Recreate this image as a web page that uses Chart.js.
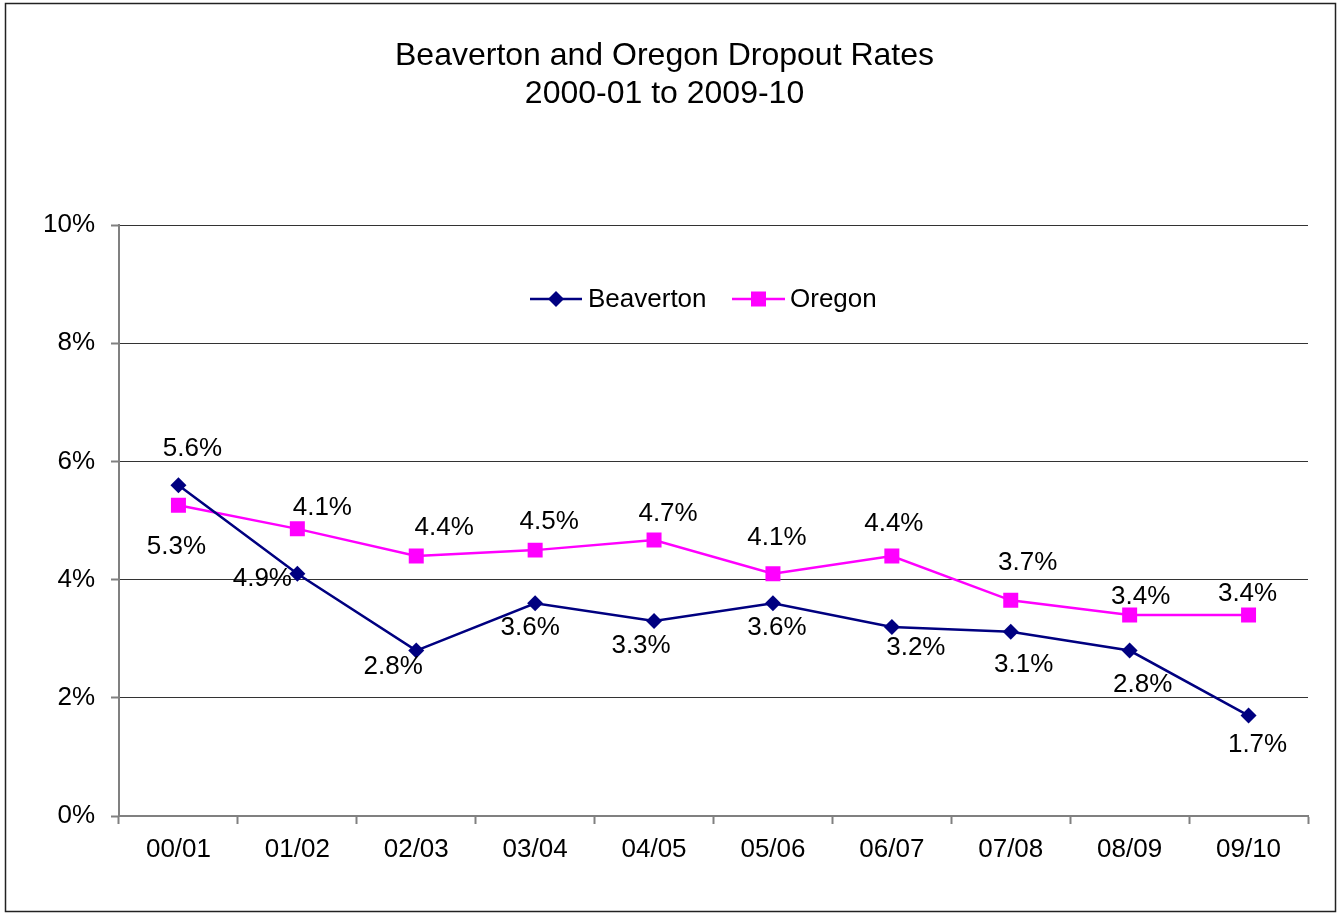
<!DOCTYPE html>
<html>
<head>
<meta charset="utf-8">
<script src="https://cdn.jsdelivr.net/npm/chart.js@4/dist/chart.umd.min.js"></script>
<style>
  html, body { margin: 0; padding: 0; background: #fff; }
  #wrap { width: 1340px; height: 914px; }
</style>
</head>
<body>
<div id="wrap"><canvas id="canvas" width="1340" height="914"></canvas></div>
<script>
// data
const years = ['00/01','01/02','02/03','03/04','04/05','05/06','06/07','07/08','08/09','09/10'];
const beaverton = [5.6, 4.1, 2.8, 3.6, 3.3, 3.6, 3.2, 3.12, 2.8, 1.7];
const oregon = [5.26, 4.86, 4.4, 4.5, 4.67, 4.1, 4.4, 3.65, 3.4, 3.4];
// label texts exactly as printed on the original
const beavertonLabels = ['5.6%','4.9%','2.8%','3.6%','3.3%','3.6%','3.2%','3.1%','2.8%','1.7%'];
const oregonLabels = ['5.3%','4.1%','4.4%','4.5%','4.7%','4.1%','4.4%','3.7%','3.4%','3.4%'];
const yTicks = [0, 2, 4, 6, 8, 10];

// label offsets from each point (px), layout only
const beavertonOff = [[14,-36],[-35,5],[-23,16],[-5,25],[-13,25],[4,25],[24,21],[13,33],[13,34],[9,29]];
const oregonOff = [[-2,42],[25,-21],[28,-28],[14,-28],[14,-26],[4,-36],[2,-32],[17,-38],[11,-18],[-1,-21]];

const font = '"Liberation Sans", Arial, sans-serif';

const frame = {
    id: 'frame',
    beforeDraw(chart) {
        let ctx = chart.ctx;
        ctx.save();
        ctx.fillStyle = '#fff';
        ctx.fillRect(0, 0, chart.width, chart.height);
        ctx.strokeStyle = '#222';
        ctx.lineWidth = 1.5;
        ctx.strokeRect(5.5, 3.5, 1330, 908);
        ctx.restore();
    }
};

const labels = {
    id: 'labels',
    afterDatasetsDraw(chart) {
        let ctx = chart.ctx;
        ctx.save();
        ctx.font = '26px ' + font;
        ctx.fillStyle = '#000';
        ctx.textAlign = 'center';
        ctx.textBaseline = 'middle';
        let sets = [[beavertonLabels, beavertonOff], [oregonLabels, oregonOff]];
        sets.forEach(([txt, off], i) => {
            chart.getDatasetMeta(i).data.forEach((pt, j) => {
                ctx.fillText(txt[j], pt.x + off[j][0], pt.y + off[j][1]);
            });
        });

        // legend inside the plot
        let y = 299;
        ctx.textAlign = 'left';
        ctx.lineWidth = 2.5;
        ctx.strokeStyle = '#000080';
        ctx.beginPath(); ctx.moveTo(530, y); ctx.lineTo(582, y); ctx.stroke();
        ctx.fillStyle = '#000080';
        ctx.beginPath();
        ctx.moveTo(556, y - 8); ctx.lineTo(564, y); ctx.lineTo(556, y + 8); ctx.lineTo(548, y);
        ctx.closePath(); ctx.fill();
        ctx.fillStyle = '#000';
        ctx.fillText('Beaverton', 588, y + 1);
        ctx.strokeStyle = '#ff00ff';
        ctx.beginPath(); ctx.moveTo(732, y); ctx.lineTo(785, y); ctx.stroke();
        ctx.fillStyle = '#ff00ff';
        ctx.fillRect(751, y - 7.5, 15, 15);
        ctx.fillStyle = '#000';
        ctx.fillText('Oregon', 790, y + 1);
        ctx.restore();
    }
};

new Chart(document.getElementById('canvas'), {
    type: 'line',
    data: {
        labels: years,
        datasets: [
            {
                label: 'Beaverton',
                data: beaverton,
                borderColor: '#000080',
                backgroundColor: '#000080',
                borderWidth: 2.5,
                pointStyle: 'rectRot',
                pointRadius: 8,
                pointBorderWidth: 0,
                tension: 0
            },
            {
                label: 'Oregon',
                data: oregon,
                borderColor: '#ff00ff',
                backgroundColor: '#ff00ff',
                borderWidth: 2.5,
                pointStyle: 'rect',
                pointRadius: 10.6,
                pointBorderWidth: 0,
                tension: 0
            }
        ]
    },
    options: {
        responsive: false,
        animation: false,
        events: [],
        layout: { padding: { left: 21, right: 32, top: 0, bottom: 0 } },
        plugins: {
            legend: { display: false },
            tooltip: { enabled: false },
            title: {
                display: true,
                text: ['Beaverton and Oregon Dropout Rates', '2000-01 to 2009-10'],
                color: '#000',
                font: { family: font, size: 32, weight: 'normal', lineHeight: 1.19 },
                padding: { top: 37, bottom: 112 }
            }
        },
        scales: {
            x: {
                offset: true,
                afterFit: s => { s.height = 98; },
                grid: {
                    offset: true,
                    drawOnChartArea: false,
                    drawTicks: true,
                    tickLength: 8,
                    tickColor: '#808080',
                    tickWidth: 2
                },
                border: { color: '#808080', width: 2 },
                ticks: { color: '#000', font: { family: font, size: 26 }, padding: 10, maxRotation: 0 }
            },
            y: {
                min: 0,
                max: 10,
                afterFit: s => { s.width = 98; },
                afterBuildTicks: s => { s.ticks = yTicks.map(v => ({ value: v })); },
                grid: {
                    color: '#333',
                    lineWidth: 1,
                    borderDash: [1, 1],
                    drawTicks: true,
                    tickLength: 8,
                    tickColor: '#808080',
                    tickBorderDash: [],
                    tickWidth: 2
                },
                border: { color: '#808080', width: 2 },
                ticks: {
                    color: '#000',
                    font: { family: font, size: 26 },
                    padding: 16,
                    callback: v => v + '%'
                }
            }
        }
    },
    plugins: [frame, labels]
});
</script>
</body>
</html>
